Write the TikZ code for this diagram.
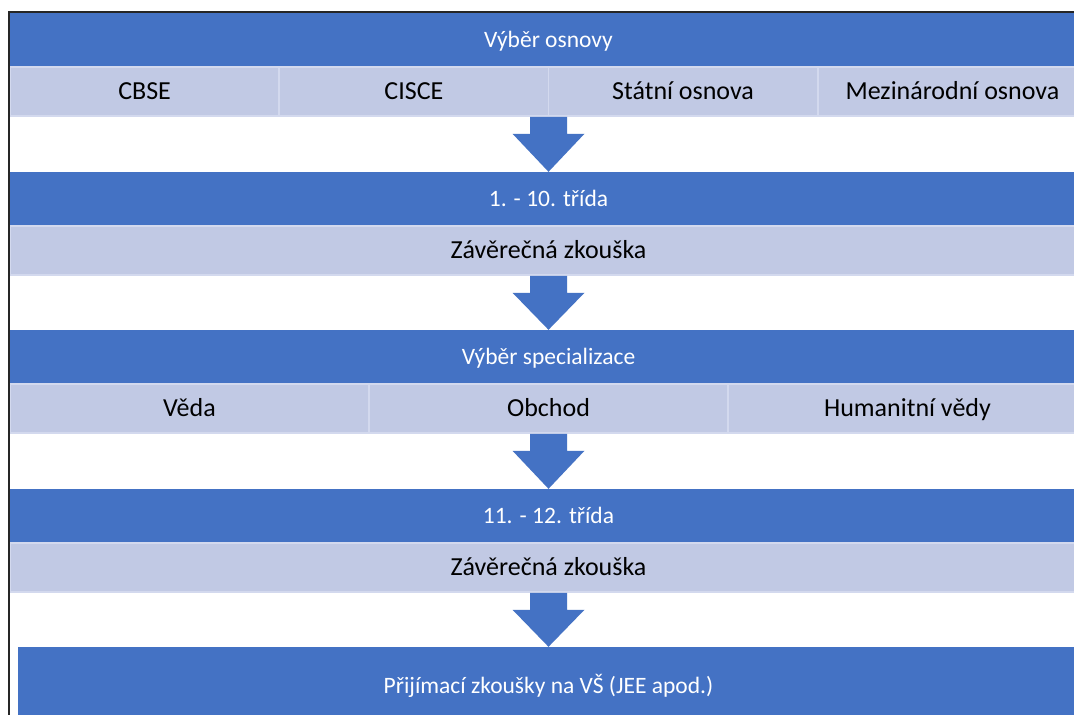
\documentclass[tikz,border=0pt]{standalone}
\usepackage{fontspec}
\setmainfont{Carlito}
\usetikzlibrary{calc}
\definecolor{barblue}{HTML}{4472C4}
\definecolor{celllight}{HTML}{C1C9E4}
\definecolor{cellline}{HTML}{D3D9EE}
\tikzset{
  bar/.style={fill=barblue, draw=none, minimum width=1077pt, minimum height=54pt, inner sep=0pt, text=white, font=\fontsize{23.5}{28}\selectfont, text height=15.1pt, text depth=0pt},
  cell/.style={fill=celllight, draw=cellline, line width=1.5pt, minimum height=49pt, inner sep=0pt, text=black, font=\fontsize{26}{31}\selectfont, text height=16.7pt, text depth=0pt},
  frameline/.style={draw=black!85, line width=2pt}
}
\newcommand{\blockarr}[2]{%
  \fill[barblue] ($(#1)+(-18.5,0)$) -- ($(#1)+(18.5,0)$) -- ($(#1)+(18.5,17)$) -- ($(#1)+(36,17)$) -- (#2) -- ($(#1)+(-36,17)$) -- ($(#1)+(-18.5,17)$) -- cycle;}
\begin{document}
\begin{tikzpicture}[x=1pt,y=-1pt]
\useasboundingbox (0,0) rectangle (1074,715);
\fill[white] (0,0) rectangle (1074,715);
\begin{scope}
\clip (0,0) rectangle (1074,715);
% row 1
\node[bar] (h1) at (548.5,40) {Výběr osnovy};
\node[cell, minimum width=269.25pt] (c11) at (144.6,91.5) {CBSE};
\node[cell, minimum width=269.25pt] (c12) at (413.9,91.5) {CISCE};
\node[cell, minimum width=269.25pt] (c13) at (683.1,91.5) {Státní osnova};
\node[cell, minimum width=269.25pt] (c14) at (952.4,91.5) {Mezinárodní osnova};
% row 2
\node[bar] (h2) at (548.5,199) {1. - 10. třída};
\node[cell, minimum width=1077pt] (c21) at (548.5,250.5) {Závěrečná zkouška};
% row 3
\node[bar] (h3) at (548.5,357) {Výběr specializace};
\node[cell, minimum width=359pt] (c31) at (189.5,408.5) {Věda};
\node[cell, minimum width=359pt] (c32) at (548.5,408.5) {Obchod};
\node[cell, minimum width=359pt] (c33) at (907.5,408.5) {Humanitní vědy};
% row 4
\node[bar] (h4) at (548.5,516) {11. - 12. třída};
\node[cell, minimum width=1077pt] (c41) at (548.5,567.5) {Závěrečná zkouška};
% row 5
\node[bar, minimum width=1061pt, minimum height=78pt] (h5) at (548.5,686) {Přijímací zkoušky na VŠ (JEE apod.)};
% arrows
\coordinate (a1) at (h1 |- c12.south);
\coordinate (a2) at (h2 |- c21.south);
\coordinate (a3) at (h3 |- c32.south);
\coordinate (a4) at (h4 |- c41.south);
\blockarr{a1}{h2.north}
\blockarr{a2}{h3.north}
\blockarr{a3}{h4.north}
\blockarr{a4}{h5.north}
% frame
\draw[frameline] (9,716) -- (9,12) -- (1075,12);
\end{scope}
\end{tikzpicture}
\end{document}
